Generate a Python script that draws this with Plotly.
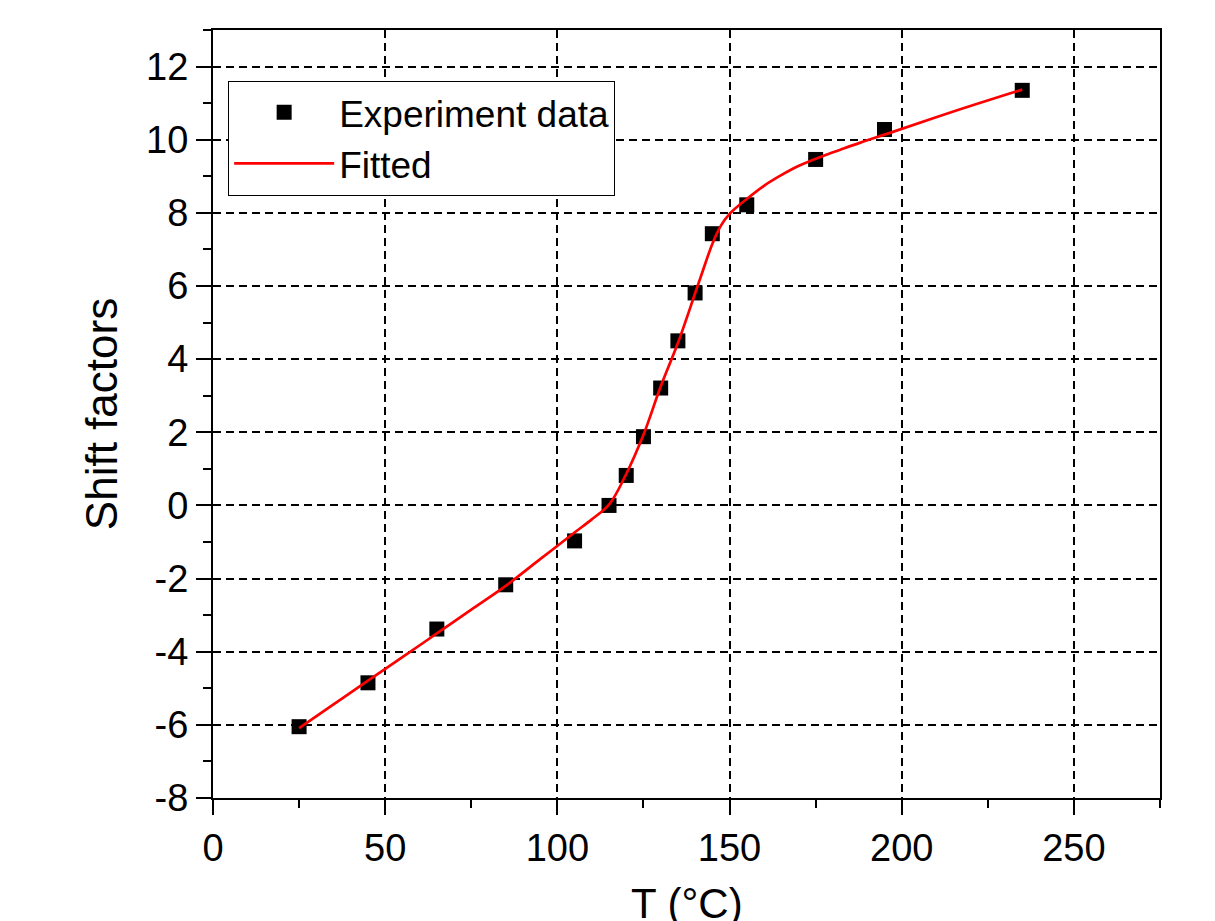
import plotly.graph_objects as go

# Experimental data
temp_exp = [25, 45, 65, 85, 105, 115, 120, 125, 130, 135, 140, 145, 155, 175, 195, 235]
shift_exp = [-6.05, -4.85, -3.38, -2.17, -0.97, 0.0, 0.82, 1.88, 3.21, 4.5, 5.81, 7.43, 8.22, 9.46, 10.28, 11.35]

# Fitted curve
temp_fit = [25, 35, 45, 55, 65, 75, 85, 95, 105, 110, 115, 120, 125, 130, 135, 140, 142, 145, 147.5, 150, 155, 160, 165, 170, 177, 182, 188, 197, 215, 235]
shift_fit = [-6.09, -5.44, -4.79, -4.15, -3.5, -2.85, -2.2, -1.47, -0.74, -0.38, 0.02, 0.86, 1.93, 3.25, 4.44, 5.8, 6.35, 7.15, 7.65, 7.97, 8.38, 8.74, 9.03, 9.28, 9.55, 9.72, 9.92, 10.2, 10.77, 11.37]

x_ticks = [0, 50, 100, 150, 200, 250]
y_ticks = [-8, -6, -4, -2, 0, 2, 4, 6, 8, 10, 12]
y_tick_text = ["-8", "-6", "-4", "-2", "0", "2", "4", "6", "8", "10", "12"]
x_title = "T (°C)"

FONT = "Liberation Sans, Arial, sans-serif"

fig = go.Figure()
fig.add_trace(go.Scatter(
    x=temp_exp, y=shift_exp, mode="markers", name="Experiment data",
    marker=dict(symbol="square", size=15, color="black", line=dict(width=0)),
))
fig.add_trace(go.Scatter(
    x=temp_fit, y=shift_fit, mode="lines", name="Fitted",
    line=dict(color="#ff0000", width=2.7, shape="spline", smoothing=1.0),
))

axis_common = dict(
    showline=True, linecolor="black", linewidth=2, mirror=True,
    ticks="outside", ticklen=15, tickwidth=2, tickcolor="black",
    showgrid=True, gridcolor="black", gridwidth=1.7, griddash="8px,5px",
    zeroline=False,
    tickfont=dict(family=FONT, size=38, color="black"),
)

fig.update_xaxes(
    range=[0, 275], tickvals=x_ticks,
    minor=dict(dtick=25, tick0=0, ticks="outside", ticklen=8, tickwidth=2, tickcolor="black", showgrid=False),
    **axis_common,
)
fig.update_yaxes(
    range=[-8, 13], tickvals=y_ticks, ticktext=y_tick_text,
    minor=dict(dtick=1, tick0=0, ticks="outside", ticklen=8, tickwidth=2, tickcolor="black", showgrid=False),
    title=dict(text="Shift factors", font=dict(family=FONT, size=44, color="black"), standoff=15),
    **axis_common,
)

fig.add_annotation(
    text=x_title, xref="paper", yref="paper", x=0.5, y=-0.104,
    xanchor="center", yanchor="top", showarrow=False,
    font=dict(family=FONT, size=42, color="black"),
)

fig.update_layout(
    width=1207, height=913,
    margin=dict(l=205, r=55, t=22, b=123, autoexpand=False),
    plot_bgcolor="white", paper_bgcolor="white",
    showlegend=True,
    legend=dict(
        x=0.016, y=0.934, xanchor="left", yanchor="top",
        bgcolor="white", bordercolor="black", borderwidth=1,
        font=dict(family=FONT, size=37, color="black"),
        itemwidth=100, tracegroupgap=0,
    ),
)

fig.write_html("out.html")
